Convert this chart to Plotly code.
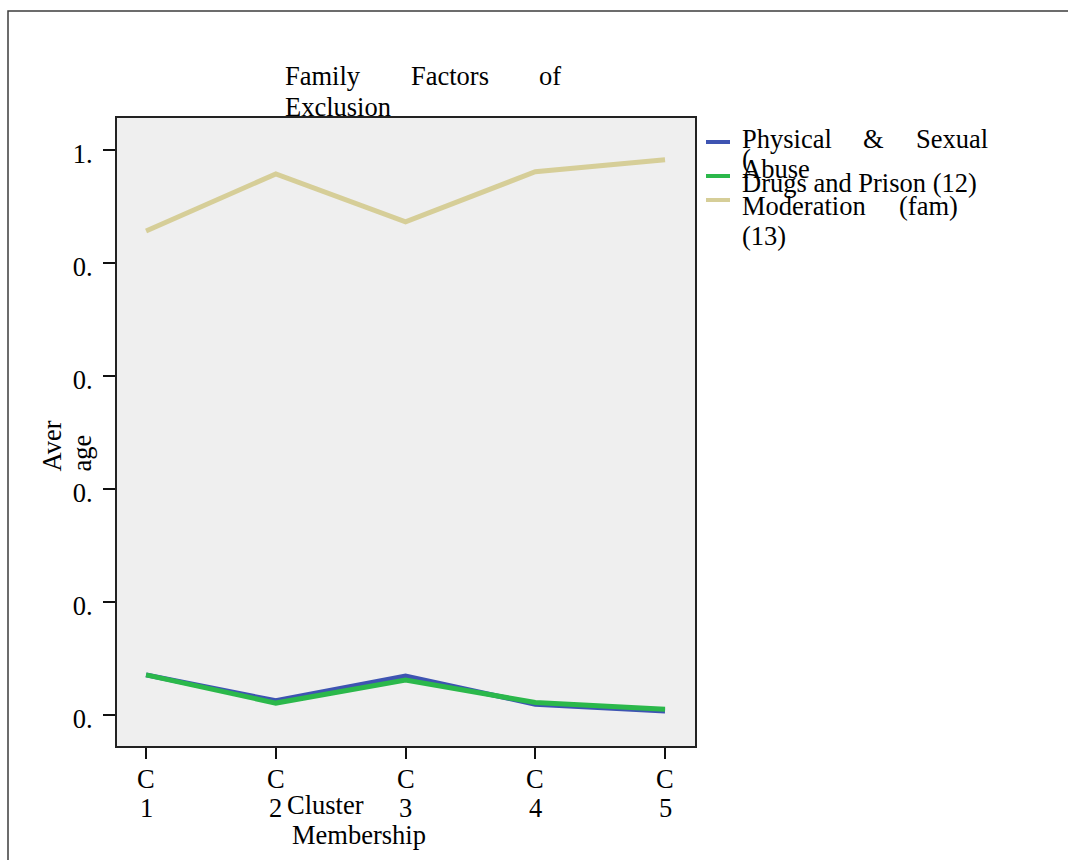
import plotly.graph_objects as go

# Cluster membership categories and mean values per family factor
clusters = ["1", "2", "3", "4", "5"]
physical_sexual_abuse = [0.071, 0.025, 0.069, 0.019, 0.007]
drugs_and_prison = [0.071, 0.021, 0.062, 0.022, 0.010]
moderation_fam = [0.857, 0.958, 0.873, 0.962, 0.983]

y_tick_values = [0.0, 0.2, 0.4, 0.6, 0.8, 1.0]
y_tick_labels = ["0.", "0.", "0.", "0.", "0.", "1."]

series_names = ["Physical & Sexual Abuse (11)", "Drugs and Prison (12)", "Moderation (fam) (13)"]
series_colors = ["#3e54b2", "#2bb84b", "#d6ce98"]

W, H = 1068, 860
L, R, T, B = 117, 695, 118, 746
FONT = "Liberation Serif"
FS = 26.5


def px(x):
    return (x - L) / (R - L)


def py(y):
    return (B - y) / (B - T)


fig = go.Figure()
xs = list(range(len(clusters)))
for name, vals, col in zip(series_names, [physical_sexual_abuse, drugs_and_prison, moderation_fam], series_colors):
    fig.add_trace(go.Scatter(x=xs, y=vals, mode="lines", name=name,
                             line=dict(color=col, width=5), showlegend=False))

annotations = []


def text(s, x, y, **kw):
    d = dict(text=s, x=px(x), y=py(y), xref="paper", yref="paper", showarrow=False,
             xanchor="left", yanchor="middle", font=dict(family=FONT, size=FS, color="black"))
    d.update(kw)
    annotations.append(d)


# title, laid out as justified words
text("Family", 283, 76)
text("Factors", 409, 76)
text("of", 537, 76)
text("Exclusion", 283, 107.5)

# legend labels
text("Physical", 740, 138.5)
text("&", 861, 138.5)
text("Sexual", 914, 138.5)
text("(", 740, 159)
text("Abuse", 740, 169)
text("Drugs and Prison (12)", 740, 182.5)
text("Moderation", 740, 206)
text("(fam)", 897, 206)
text("(13)", 740, 236)

# axis titles
text("Cluster", 285, 804.5)
text("Membership", 290, 834.5)
text("Aver", 51, 474, textangle=-90, xanchor="center", yanchor="bottom")
text("age", 81, 474, textangle=-90, xanchor="center", yanchor="bottom")

# category labels under each tick, stacked on two tight lines
for i, c in enumerate(clusters):
    for s, yy in (("C", 779), (c, 808)):
        annotations.append(dict(text=s, x=i, xref="x", y=py(yy), yref="paper", showarrow=False,
                                xanchor="center", yanchor="middle",
                                font=dict(family=FONT, size=FS, color="black")))

shapes = [
    # outer frame
    dict(type="rect", xref="paper", yref="paper", x0=px(8), x1=px(1080), y0=py(11), y1=py(880),
         line=dict(color="#3c3c3c", width=1.5), fillcolor="rgba(0,0,0,0)", layer="below"),
]
# legend swatches
for col, yy in zip(series_colors, [142, 176, 200]):
    shapes.append(dict(type="line", xref="paper", yref="paper", x0=px(706), x1=px(730),
                       y0=py(yy), y1=py(yy), line=dict(color=col, width=4)))

fig.update_layout(
    width=W, height=H,
    margin=dict(l=L, r=W - R, t=T, b=H - B, pad=0),
    paper_bgcolor="white",
    plot_bgcolor="#efefef",
    font=dict(family=FONT, size=FS, color="black"),
    annotations=annotations,
    shapes=shapes,
    xaxis=dict(range=[-0.224, 4.231], tickvals=xs, showticklabels=False,
               showgrid=False, zeroline=False, showline=True, mirror=True,
               linecolor="#222222", linewidth=2, ticks="outside", ticklen=11,
               tickwidth=2, tickcolor="#111111"),
    yaxis=dict(range=[-0.055, 1.057], tickvals=y_tick_values, ticktext=y_tick_labels,
               showgrid=False, zeroline=False, showline=True, mirror=True,
               linecolor="#222222", linewidth=2, ticks="outside", ticklen=12,
               tickwidth=2, tickcolor="#111111", ticklabelstandoff=5, ticklabelshift=4),
)

fig.write_html("out.html")
